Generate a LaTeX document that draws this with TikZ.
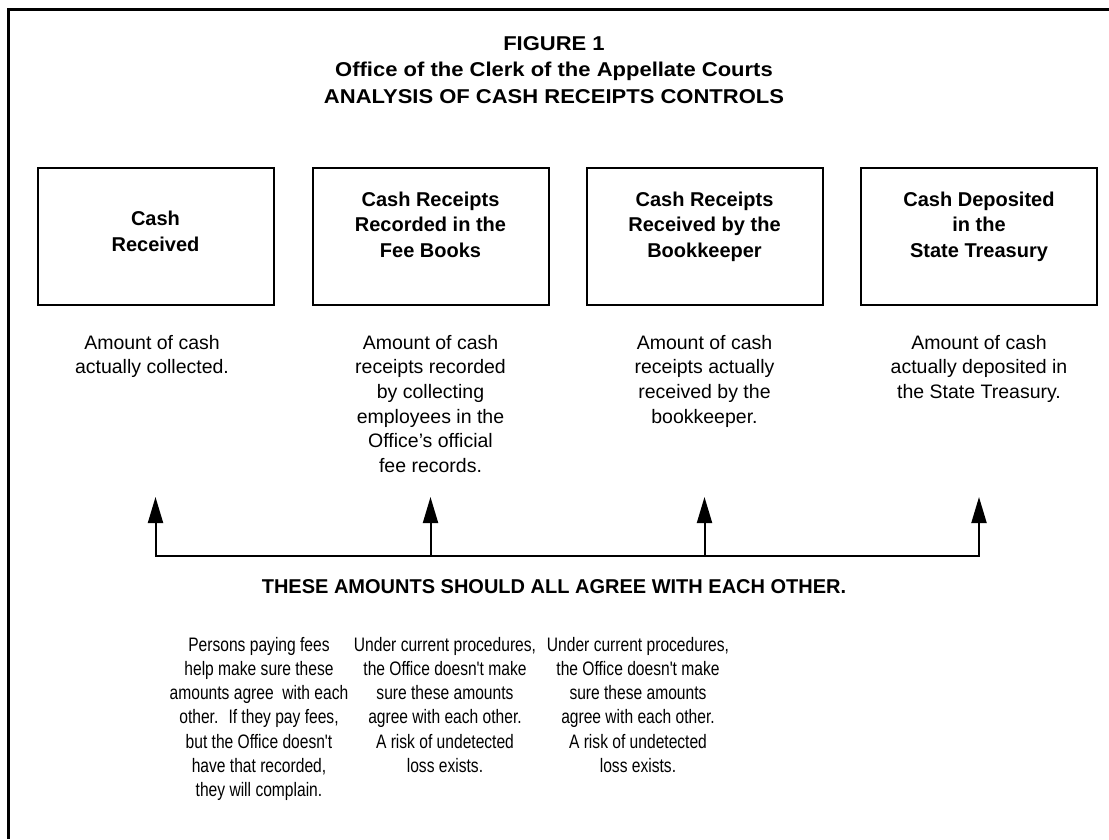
\documentclass[tikz,border=0pt]{standalone}
\usepackage{fontspec}
\setmainfont{Liberation Sans}
\newfontfamily\titlefont{Liberation Sans}[FakeStretch=1.1]
\newfontfamily\narrowfont{Liberation Sans}[FakeStretch=0.8]
\usetikzlibrary{arrows.meta}
\begin{document}
\begin{tikzpicture}[x=1pt,y=-1pt,
  box/.style={draw,line width=2pt,minimum width=236pt,minimum height=137pt,inner sep=0pt},
  boxtxt/.style={font=\bfseries\fontsize{20}{25.5}\selectfont,align=center,anchor=north,inner sep=0pt},
  titletxt/.style={font=\titlefont\bfseries\fontsize{20}{26.5}\selectfont,align=center,anchor=north,inner sep=0pt},
  agreetxt/.style={font=\bfseries\fontsize{20}{26.5}\selectfont,align=center,anchor=north,inner sep=0pt},
  desc/.style={font=\fontsize{19.5}{24.6}\selectfont,align=center,anchor=north,inner sep=0pt},
  note/.style={font=\narrowfont\fontsize{19.5}{24.2}\selectfont,align=center,anchor=north,inner sep=0pt},
  conn/.style={line width=2pt,line cap=rect},
  arr/.style={line width=2pt,-{Triangle[length=26pt,width=15pt]}},
  frame/.style={line width=3pt}]
\useasboundingbox (0,0) rectangle (1109,839);
% frame
\coordinate (fbl) at (8,839);
\coordinate (ftl) at (8,9.5);
\coordinate (ftr) at (1109,9.5);
\draw[frame] (fbl) -- (ftl) -- (ftr);
% title
\node[titletxt] (title) at (554,36) {FIGURE 1\\Office of the Clerk of the Appellate Courts\\ANALYSIS OF CASH RECEIPTS CONTROLS};
% boxes
\node[box] (b1) at (155.5,236.5) {};
\node[box] (b2) at (430.5,236.5) {};
\node[box] (b3) at (704.5,236.5) {};
\node[box] (b4) at (979,236.5) {};
\node[boxtxt] (l1) at (155.5,211) {Cash\\Received};
\node[boxtxt] (l2) at (430.5,191.5) {Cash Receipts\\Recorded in the\\Fee Books};
\node[boxtxt] (l3) at (704.5,191.5) {Cash Receipts\\Received by the\\Bookkeeper};
\node[boxtxt] (l4) at (979,191.5) {Cash Deposited\\in the\\State Treasury};
% descriptions
\node[desc] (d1) at (152,335) {Amount of cash\\actually collected.};
\node[desc] (d2) at (430.5,335) {Amount of cash\\receipts recorded\\by collecting\\employees in the\\Office's official\\fee records.};
\node[desc] (d3) at (704.5,335) {Amount of cash\\receipts actually\\received by the\\bookkeeper.};
\node[desc] (d4) at (979,335) {Amount of cash\\actually deposited in\\the State Treasury.};
% arrows
\coordinate (t1) at (155.5,497);
\coordinate (t2) at (430.5,497);
\coordinate (t3) at (704.5,497);
\coordinate (t4) at (979,497);
\coordinate (c1) at (155.5,556);
\coordinate (c2) at (430.5,556);
\coordinate (c3) at (704.5,556);
\coordinate (c4) at (979,556);
\draw[conn] (c1) -- (c4);
\draw[arr] (c1) -- (t1);
\draw[arr] (c2) -- (t2);
\draw[arr] (c3) -- (t3);
\draw[arr] (c4) -- (t4);
\node[agreetxt] (agree) at (554,579) {THESE AMOUNTS SHOULD ALL AGREE WITH EACH OTHER.};
% notes
\node[note] (n1) at (259,637) {Persons paying fees\\help make sure these\\amounts agree~ with each\\other.~ If they pay fees,\\but the Office doesn't\\have that recorded,\\they will complain.};
\node[note] (n2) at (445,637) {Under current procedures,\\the Office doesn't make\\sure these amounts\\agree with each other.\\A risk of undetected\\loss exists.};
\node[note] (n3) at (638,637) {Under current procedures,\\the Office doesn't make\\sure these amounts\\agree with each other.\\A risk of undetected\\loss exists.};
\end{tikzpicture}
\end{document}
